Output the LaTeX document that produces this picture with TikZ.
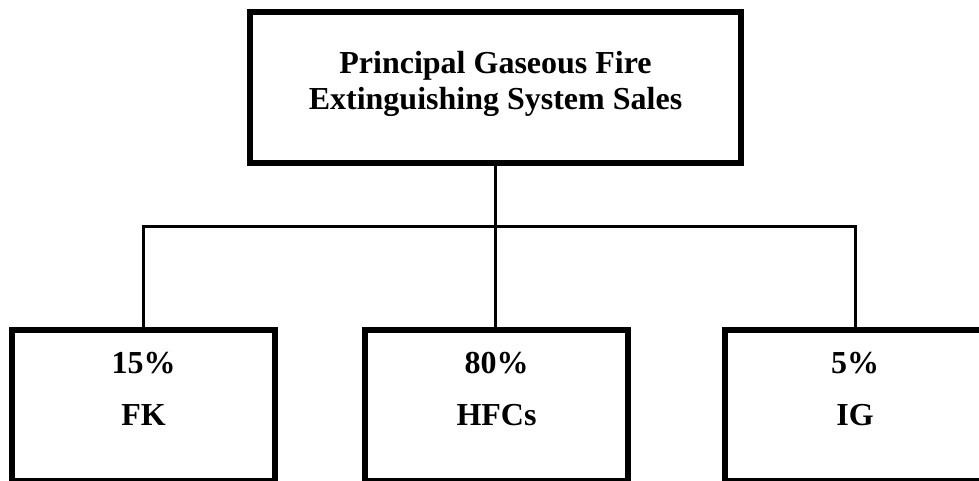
\documentclass[tikz,border=0pt]{standalone}
\usepackage{fontspec}
\setmainfont{Liberation Serif}
\begin{document}
\begin{tikzpicture}[x=1pt,y=1pt,
  boxnode/.style={draw=black,line width=6pt,minimum width=491pt,minimum height=151pt,inner sep=0pt,fill=none},
  smallbox/.style={draw=black,line width=6pt,minimum width=263pt,minimum height=151pt,inner sep=0pt},
  lbl/.style={font=\bfseries\fontsize{32}{37}\selectfont,anchor=base,inner sep=0pt},
  conn/.style={draw=black,line width=3pt}]
\useasboundingbox (0,0) rectangle (979,480);
\clip (0,0) rectangle (979,480);
\node[boxnode] (top) at (495.5,392.5) {};
\node[smallbox] (left) at (143.5,74.5) {};
\node[smallbox] (mid) at (496.5,74.5) {};
\node[smallbox] (right) at (856.5,74.5) {};
\coordinate (bus) at (495.5,253.5);
\node[lbl] (t1) at (495.5,406.7) {Principal Gaseous Fire};
\node[lbl] (t2) at (495.5,370) {Extinguishing System Sales};
\node[lbl] (lp) at (143.5,107) {15\%};
\node[lbl] (ln) at (143.5,55) {FK};
\node[lbl] (mp) at (496.5,107) {80\%};
\node[lbl] (mn) at (496.5,55) {HFCs};
\node[lbl] (rp) at (855,107) {5\%};
\node[lbl] (rn) at (855,55) {IG};
\draw[conn] (top.south) -- (top.south |- mid.north);
\draw[conn] (left.north) -- (left.north |- bus) -- ([xshift=-1pt]right.north |- bus) -- ([xshift=-1pt]right.north);
\end{tikzpicture}
\end{document}
